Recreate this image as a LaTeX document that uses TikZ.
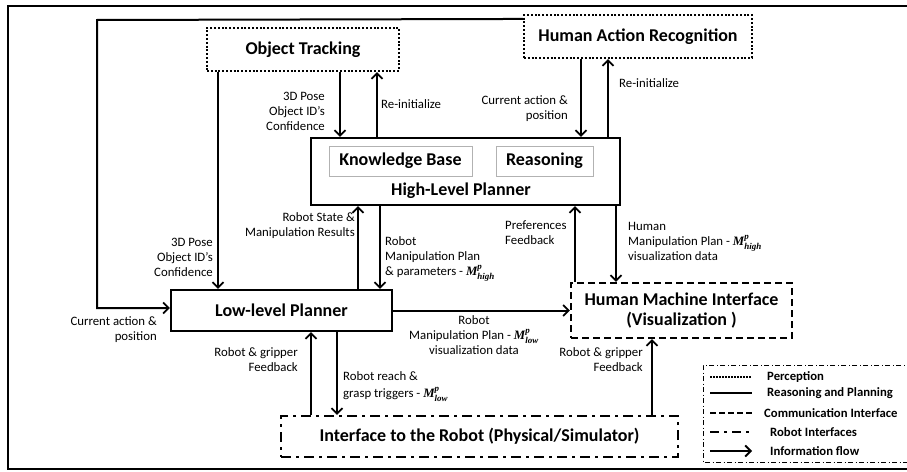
\documentclass[tikz,border=0pt]{standalone}
\usepackage{amsmath}
\usepackage{fontspec}
\setmainfont{Carlito}
\newfontfamily\mserif{Liberation Serif}
\newcommand{\mfbi}[1]{\text{\mserif\bfseries\itshape #1}}
\usetikzlibrary{arrows.meta,calc}
\begin{document}
\begin{tikzpicture}[x=1pt,y=-1pt,
  basebox/.style={line width=2.1pt,inner sep=0pt,align=center,
    font=\fontsize{18}{20}\selectfont\bfseries},
  perc/.style={basebox,draw,dash pattern=on 2pt off 1.8pt},
  plan/.style={basebox,draw},
  comm/.style={basebox,draw,dash pattern=on 7pt off 4pt},
  robif/.style={basebox,draw,dash pattern=on 10pt off 5pt on 3pt off 5pt},
  subbox/.style={draw=gray!60,line width=0.8pt,inner sep=0pt,
    font=\fontsize{18}{20}\selectfont\bfseries},
  title/.style={inner sep=0pt,font=\fontsize{18}{20}\selectfont\bfseries},
  flow/.style={line width=2pt,-{Straight Barb[length=5.5pt,width=11pt,line width=1.8pt]}},
  lbl/.style={inner sep=0pt,font=\fontsize{12.8}{15}\selectfont},
  leg/.style={inner sep=0pt,anchor=west,font=\fontsize{12.7}{15}\selectfont\bfseries}]
\useasboundingbox (0,0) rectangle (907,471);
% outer frame
\draw[line width=2.2pt] (912,6) -- (8,6) -- (8,469) -- (912,469);
% boxes
\node[perc,minimum width=192pt,minimum height=43pt] (ot) at (303,49.5) {Object Tracking};
\node[perc,minimum width=228pt,minimum height=43pt] (har) at (638,36.5) {Human Action Recognition};
\node[plan,minimum width=309pt,minimum height=67pt] (hlp) at (465.5,171.5) {};
\node[subbox,minimum width=143pt,minimum height=30pt] (kb) at (400.5,161) {Knowledge Base};
\node[subbox,minimum width=97pt,minimum height=30pt] (rs) at (544.5,161) {Reasoning};
\node[title] (hlpt) at (461,191) {High-Level Planner};
\node[plan,minimum width=221pt,minimum height=41pt] (llp) at (281.5,310.5) {Low-level Planner};
\node[comm,minimum width=221pt,minimum height=55pt] (hmi) at (681.5,310.5) {Human Machine Interface\\(Visualization )};
\node[robif,minimum width=397pt,minimum height=41pt] (rob) at (479.5,436.5) {Interface to the Robot (Physical/Simulator)};
% connector anchor points
\coordinate (p1) at ([xshift=-85pt]ot.south);
\coordinate (p2) at ([xshift=37pt]ot.south);
\coordinate (p3) at ([xshift=-88.5pt]hlp.north);
\coordinate (p4) at ([xshift=-57pt]har.south);
\coordinate (p5) at ([xshift=142.5pt]hlp.north);
\coordinate (p6) at ([xshift=76.5pt]llp.north);
\coordinate (p7) at ([xshift=-85.5pt]hlp.south);
\coordinate (p8) at ([xshift=-106.5pt]hmi.north);
\coordinate (p9) at ([xshift=150.5pt]hlp.south);
\coordinate (p10) at ([xshift=-168.5pt]rob.north);
\coordinate (p11) at ([xshift=55.5pt]llp.south);
\coordinate (p12) at ([xshift=172.5pt]rob.north);
\coordinate (fb0) at ([yshift=-5pt]har.north west);
\coordinate (fb1) at (97,20);
\coordinate (fb2) at (97,308);
\coordinate (fb3) at ([yshift=2.5pt]llp.west);
% connectors
\draw[flow] (fb0) -- (fb1) -- (fb2) -- (fb3);
\draw[flow] (p1) -- (p1 |- llp.north);
\draw[flow] (p2) -- (p2 |- hlp.north);
\draw[flow] (p3) -- (p3 |- ot.south);
\draw[flow] (p4) -- (p4 |- hlp.north);
\draw[flow] (p5) -- (p5 |- har.south);
\draw[flow] (p6) -- (p6 |- hlp.south);
\draw[flow] (p7) -- (p7 |- llp.north);
\draw[flow] (p8) -- (p8 |- hlp.south);
\draw[flow] (p9) -- (p9 |- hmi.north);
\draw[flow] (llp.east) -- (hmi.west);
\draw[flow] (p10) -- (p10 |- llp.south);
\draw[flow] (p11) -- (p11 |- rob.north);
\draw[flow] (p12) -- (p12 |- hmi.south);
% labels
\node[lbl,anchor=east,align=right] (l1) at (325,111) {3D Pose\\Object ID’s\\Confidence};
\node[lbl,anchor=west] (l2) at (381,104) {Re-initialize};
\node[lbl,anchor=east,align=right] (l3) at (568,108.5) {Current action \&\\position};
\node[lbl,anchor=west] (l4) at (619,83) {Re-initialize};
\node[lbl,anchor=east,align=right] (l5) at (213,257) {3D Pose\\Object ID’s\\Confidence};
\node[lbl,anchor=east,align=right] (l6) at (355,225.5) {Robot State \&\\Manipulation Results};
\node[lbl,anchor=west,align=left] (l7) at (385,259) {Robot\\Manipulation Plan\\\& parameters - $\mfbi{M}^{\mfbi{p}}_{\mfbi{high}}$};
\node[lbl,anchor=west,align=left] (l8) at (505,232.5) {Preferences\\Feedback};
\node[lbl,anchor=west,align=left] (l9) at (628,241) {Human\\Manipulation Plan - $\mfbi{M}^{\mfbi{p}}_{\mfbi{high}}$\\visualization data};
\node[lbl,align=center] (l10) at (474,335) {Robot\\Manipulation Plan - $\mfbi{M}^{\mfbi{p}}_{\mfbi{low}}$\\visualization data};
\node[lbl,anchor=east,align=right] (l11) at (157,329.5) {Current action \&\\position};
\node[lbl,anchor=east,align=right] (l12) at (298,359.5) {Robot \& gripper\\Feedback};
\node[lbl,anchor=west,align=left] (l13) at (343,387) {Robot reach \&\\[2pt]grasp triggers - $\mfbi{M}^{\mfbi{p}}_{\mfbi{low}}$};
\node[lbl,anchor=east,align=right] (l14) at (643,360) {Robot \& gripper\\Feedback};
% legend
\draw[line width=0.8pt,dash pattern=on 5pt off 2.5pt on 1pt off 2.5pt] (912,365) -- (703,365) -- (703,462) -- (912,462);
\draw[line width=1.8pt,dash pattern=on 1.5pt off 1.5pt] (710,377) -- (752,377);
\draw[line width=1.8pt] (710,393) -- (752,393);
\draw[line width=1.8pt,dash pattern=on 6pt off 3pt] (710,413) -- (752,413);
\draw[line width=1.8pt,dash pattern=on 9pt off 5pt on 3pt off 5pt] (710,432) -- (752,432);
\draw[flow] (710,451) -- (752,451);
\node[leg] (g1) at (767,377) {Perception};
\node[leg] (g2) at (767,393) {Reasoning and Planning};
\node[leg] (g3) at (764,413) {Communication Interface};
\node[leg] (g4) at (770,432) {Robot Interfaces};
\node[leg] (g5) at (770,451) {Information flow};
\end{tikzpicture}
\end{document}
